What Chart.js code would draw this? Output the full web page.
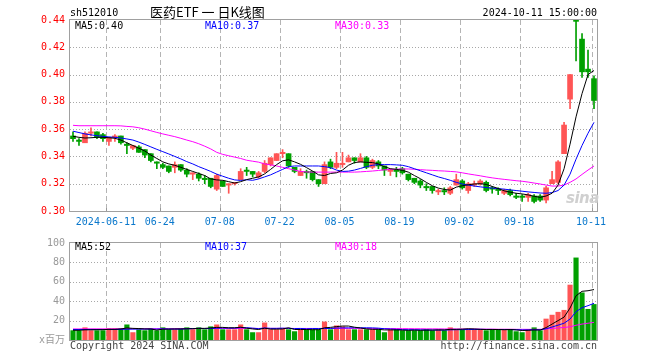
<!DOCTYPE html>
<html lang="zh-CN">
<head>
<meta charset="UTF-8">
<title>医药ETF 日K线图</title>
<script src="https://cdn.jsdelivr.net/npm/chart.js@4/dist/chart.umd.min.js"></script>
<style>
  body { margin: 0; background: #fff; }
  #wrap { position: relative; width: 660px; height: 360px; overflow: hidden;
          font-family: "DejaVu Sans Mono", monospace; font-size: 10px; }
  #kline { position: absolute; left: 0; top: 0; }
  #volume { position: absolute; left: 0; top: 232px; }
  .txt { position: absolute; white-space: nowrap; line-height: 12px; }
</style>
</head>
<body>
<div id="wrap">
  <canvas id="kline" width="660" height="232"></canvas>
  <canvas id="volume" width="660" height="128"></canvas>

  <div class="txt" style="left:70px;top:7px;color:#000">sh512010</div>
  <div class="txt" style="left:150px;top:4px;font-family:'Noto Sans CJK SC','DejaVu Sans Mono';font-size:13px;line-height:16px;color:#000">医药ETF 一 日K线图</div>
  <div class="txt" style="right:63px;top:7px;color:#000">2024-10-11 15:00:00</div>

  <div class="txt" style="left:75px;top:20px;color:#000">MA5:0.40</div>
  <div class="txt" style="left:205px;top:20px;color:#0000ff">MA10:0.37</div>
  <div class="txt" style="left:335px;top:20px;color:#ff00ff">MA30:0.33</div>

  <div class="txt" style="left:75px;top:241px;color:#000">MA5:52</div>
  <div class="txt" style="left:205px;top:241px;color:#0000ff">MA10:37</div>
  <div class="txt" style="left:335px;top:241px;color:#ff00ff">MA30:18</div>

  <div class="txt" style="left:566px;top:190px;font-family:'DejaVu Sans';font-weight:bold;font-style:italic;font-size:15px;line-height:16px;letter-spacing:-0.5px;color:#d0d0d0">sina</div>

  <div class="txt" style="left:70px;top:340px;color:#444">Copyright 2024 SINA.COM</div>
  <div class="txt" style="right:63px;top:340px;color:#444">http://finance.sina.com.cn</div>
</div>

<script>
// trading days shown on the chart
var dates = [
  '2024-05-31',
  '2024-06-03','2024-06-04','2024-06-05','2024-06-06','2024-06-07','2024-06-11','2024-06-12','2024-06-13','2024-06-14',
  '2024-06-17','2024-06-18','2024-06-19','2024-06-20','2024-06-21','2024-06-24','2024-06-25','2024-06-26','2024-06-27','2024-06-28',
  '2024-07-01','2024-07-02','2024-07-03','2024-07-04','2024-07-05','2024-07-08','2024-07-09','2024-07-10','2024-07-11','2024-07-12',
  '2024-07-15','2024-07-16','2024-07-17','2024-07-18','2024-07-19','2024-07-22','2024-07-23','2024-07-24','2024-07-25','2024-07-26',
  '2024-07-29','2024-07-30','2024-07-31','2024-08-01','2024-08-02','2024-08-05','2024-08-06','2024-08-07','2024-08-08','2024-08-09',
  '2024-08-12','2024-08-13','2024-08-14','2024-08-15','2024-08-16','2024-08-19','2024-08-20','2024-08-21','2024-08-22','2024-08-23',
  '2024-08-26','2024-08-27','2024-08-28','2024-08-29','2024-08-30','2024-09-02','2024-09-03','2024-09-04','2024-09-05','2024-09-06',
  '2024-09-09','2024-09-10','2024-09-11','2024-09-12','2024-09-13','2024-09-18','2024-09-19','2024-09-20','2024-09-23','2024-09-24',
  '2024-09-25','2024-09-26','2024-09-27','2024-09-30','2024-10-08','2024-10-09','2024-10-10','2024-10-11'
];
var tickDates = ['2024-06-11','2024-06-24','2024-07-08','2024-07-22','2024-08-05','2024-08-19','2024-09-02','2024-09-18','2024-10-11'];

var opens = [
  .355,.352,.350,.357,.358,.356,.351,.354,.355,.349,
  .346,.347,.345,.342,.336,.334,.333,.332,.334,.330,
  .327,.327,.324,.324,.316,.322,.319,.320,.323,.330,
  .329,.325,.329,.334,.337,.342,.342,.332,.326,.329,
  .329,.323,.320,.336,.332,.334,.336,.339,.336,.339,
  .332,.336,.333,.329,.330,.331,.327,.324,.322,.318,
  .318,.314,.315,.313,.319,.322,.315,.319,.320,.321,
  .317,.316,.313,.315,.311,.311,.310,.311,.311,.308,
  .320,.321,.342,.382,.440,.426,.404,.397
];
var highs = [
  .358,.353,.358,.361,.358,.357,.354,.356,.355,.350,
  .348,.348,.345,.342,.336,.335,.333,.336,.334,.331,
  .328,.328,.326,.324,.327,.322,.320,.321,.331,.332,
  .329,.329,.337,.339,.342,.345,.342,.332,.331,.330,
  .329,.323,.336,.338,.343,.343,.341,.339,.342,.340,
  .338,.337,.333,.331,.332,.332,.327,.324,.323,.320,
  .318,.316,.317,.318,.327,.323,.321,.322,.323,.322,
  .318,.317,.316,.316,.313,.312,.313,.312,.312,.318,
  .329,.337,.365,.400,.440,.430,.418,.399
];
var lows = [
  .351,.348,.350,.355,.353,.351,.348,.351,.349,.342,
  .345,.343,.339,.336,.331,.331,.328,.328,.329,.325,
  .323,.322,.320,.317,.315,.318,.313,.319,.323,.326,
  .325,.324,.328,.333,.337,.339,.332,.328,.326,.324,
  .322,.318,.320,.331,.331,.332,.336,.335,.336,.331,
  .331,.331,.326,.326,.325,.327,.322,.320,.317,.315,
  .313,.312,.312,.312,.319,.316,.313,.318,.319,.314,
  .313,.312,.312,.311,.309,.307,.307,.306,.307,.306,
  .320,.320,.342,.375,.410,.398,.398,.375
];
var closes = [
  .353,.351,.357,.358,.354,.353,.354,.355,.350,.348,
  .348,.343,.341,.337,.335,.332,.329,.334,.330,.327,
  .328,.324,.323,.318,.326,.318,.320,.321,.329,.329,
  .327,.328,.335,.339,.342,.343,.333,.329,.329,.328,
  .323,.320,.334,.332,.335,.335,.339,.337,.339,.332,
  .337,.333,.330,.330,.329,.328,.323,.321,.319,.317,
  .315,.315,.314,.317,.323,.317,.320,.320,.322,.315,
  .316,.315,.315,.312,.310,.310,.312,.307,.308,.317,
  .323,.336,.363,.400,.439,.402,.402,.381
];

var priceMa5 = [
  .3548,.3540,.3535,.3537,.3540,.3540,.3537,.3533,.3520,.3500,
  .3480,.3460,.3440,.3410,.3385,.3360,.3345,.3335,.3320,.3305,
  .3290,.3275,.3260,.3235,.3228,.3225,.3215,.3205,.3215,.3230,
  .3240,.3250,.3272,.3305,.3340,.3368,.3375,.3360,.3342,.3318,
  .3293,.3265,.3260,.3275,.3280,.3300,.3335,.3355,.3360,.3357,
  .3355,.3345,.3325,.3310,.3305,.3298,.3285,.3260,.3237,.3210,
  .3185,.3168,.3158,.3153,.3175,.3185,.3192,.3198,.3200,.3195,
  .3180,.3165,.3148,.3138,.3130,.3125,.3118,.3108,.3100,.3110,
  .3130,.3190,.3310,.3490,.3690,.3860,.4000,.4030
];
var priceMa10 = [
  .3585,.3575,.3565,.3558,.3552,.3547,.3543,.3540,.3535,.3528,
  .3520,.3505,.3488,.3470,.3452,.3435,.3418,.3400,.3382,.3362,
  .3345,.3325,.3308,.3290,.3270,.3255,.3240,.3228,.3224,.3229,
  .3225,.3235,.3250,.3265,.3285,.3305,.3325,.3330,.3330,.3330,
  .3330,.3330,.3325,.3318,.3300,.3290,.3292,.3300,.3312,.3325,
  .3335,.3340,.3340,.3340,.3338,.3335,.3325,.3310,.3295,.3280,
  .3265,.3250,.3238,.3225,.3210,.3198,.3190,.3183,.3177,.3172,
  .3168,.3164,.3160,.3155,.3150,.3145,.3140,.3136,.3132,.3130,
  .3135,.3150,.3190,.3270,.3380,.3480,.3570,.3650
];
var priceMa30 = [
  .3628,.3625,.3625,.3625,.3625,.3625,.3625,.3625,.3624,.3620,
  .3617,.3610,.3600,.3588,.3576,.3565,.3555,.3545,.3533,.3520,
  .3508,.3493,.3475,.3455,.3430,.3415,.3405,.3395,.3385,.3372,
  .3365,.3358,.3345,.3338,.3330,.3320,.3310,.3300,.3290,.3286,
  .3285,.3285,.3285,.3285,.3285,.3285,.3285,.3285,.3287,.3290,
  .3293,.3297,.3302,.3305,.3307,.3308,.3308,.3306,.3303,.3300,
  .3298,.3295,.3293,.3290,.3287,.3280,.3272,.3265,.3258,.3250,
  .3243,.3237,.3232,.3227,.3222,.3218,.3212,.3205,.3198,.3190,
  .3183,.3183,.3190,.3210,.3235,.3268,.3300,.3330
];

// volume, millions of shares
var volumes = [
  10,10,13,10,10,10,12,12,12,16,
  8,11,10,12,10,13,11,11,12,13,
  11,13,11,14,16,11,11,11,16,11,
  8,8,18,11,11,12,11,9,11,11,
  11,11,19,11,15,14,11,11,11,11,
  11,11,8,11,11,10,10,10,10,11,
  10,11,10,13,11,11,11,11,11,10,
  11,11,11,11,9,8,11,13,10,22,
  26,29,31,57,85,49,32,37
];
var volMa5 = [
  10,10,10.5,10.5,10.6,10.6,11,11,11.4,12.4,
  12,11.8,11.4,11.4,10.2,11.2,11.2,11.4,11.4,11.6,
  11.6,12,12,12.4,13,13,12.6,12.6,13.2,12.2,
  11.4,10.8,12.2,11.2,11.2,11.4,12.6,10.8,10.8,10.8,
  10.6,10.6,12.6,13,13.8,14.4,14.4,13.2,12.4,11.4,
  11,11,10.4,10.4,10.4,10.2,10,10.2,10,10.2,
  10.2,10.4,10.4,11,11,11.2,11.6,11.4,11,10.8,
  10.8,10.8,10.6,10.8,10.4,9.8,10,10.4,10.2,12.8,
  16.4,20,23.6,33,45.6,50.2,50.8,52
];
var volMa10 = [
  10.8,10.8,10.8,10.8,10.8,10.8,10.8,10.8,11,11.2,
  11.2,11.3,11.2,11.2,11.2,11.5,11.3,11.2,11.2,11.6,
  11.8,12,11.8,11.8,12.2,12.4,12.3,12.3,12.8,12.7,
  12.2,11.7,12.4,12,12,12.2,12,11.8,11.9,11.5,
  11.8,11.8,11.9,11.9,12.3,12.5,12.5,12.6,12.6,12.6,
  12.5,12.2,11.6,11.3,11,10.7,10.6,10.6,10.5,10.4,
  10.3,10.3,10.2,10.5,10.6,10.7,10.8,10.9,11,10.9,
  10.9,10.8,10.8,10.8,10.6,10.4,10.4,10.6,10.5,11.6,
  13.4,15.3,17.3,21.6,29.2,33.3,35.4,37.8
];
var volMa30 = [
  11.4,11.4,11.5,11.5,11.5,11.5,11.5,11.5,11.5,11.6,
  11.6,11.6,11.6,11.6,11.6,11.6,11.6,11.7,11.7,11.7,
  11.7,11.8,11.8,11.8,11.9,11.9,11.9,11.9,12,12,
  12,11.9,12,12,12,12,12,11.9,11.9,11.9,
  11.9,11.9,12,12,12,12,12,12,12,11.9,
  11.9,11.9,11.8,11.8,11.8,11.7,11.7,11.6,11.6,11.5,
  11.5,11.5,11.4,11.4,11.4,11.3,11.3,11.3,11.2,11.2,
  11.2,11.1,11.1,11.1,11,11,11,11,11,11.4,
  11.9,12.4,12.9,13.6,15.2,16.4,17.3,18.2
];

var UP = '#ff5555';
var DOWN = '#00a000';
var MONO = '"DejaVu Sans Mono", monospace';

Chart.defaults.font.family = MONO;
Chart.defaults.font.size = 10;
Chart.defaults.animation = false;

var candleColors = closes.map(function (c, i) { return c >= opens[i] ? UP : DOWN; });

// sina style grid: dotted horizontals, dashed verticals at the date ticks
function sinaGrid(hLines, tickMarks) {
  return {
    id: 'sinaGrid',
    beforeDatasetsDraw: function (chart) {
      var ctx = chart.ctx, a = chart.chartArea;
      var xs = chart.scales.x, ys = chart.scales.y;
      ctx.save();
      ctx.lineWidth = 1;
      ctx.strokeStyle = '#a8a8a8';
      ctx.setLineDash([1, 2]);
      hLines.forEach(function (v) {
        var py = Math.round(ys.getPixelForValue(v)) + 0.5;
        ctx.beginPath(); ctx.moveTo(a.left, py); ctx.lineTo(a.right, py); ctx.stroke();
      });
      ctx.setLineDash([5, 3]);
      ctx.strokeStyle = '#b4b4b4';
      tickDates.forEach(function (d) {
        var px = Math.round(xs.getPixelForValue(dates.indexOf(d)) - 2.5) + 0.5;
        ctx.beginPath(); ctx.moveTo(px, a.top); ctx.lineTo(px, a.bottom); ctx.stroke();
        if (tickMarks) {
          ctx.save();
          ctx.setLineDash([]);
          ctx.strokeStyle = '#999';
          ctx.beginPath(); ctx.moveTo(px, a.bottom - 3); ctx.lineTo(px, a.bottom); ctx.stroke();
          ctx.restore();
        }
      });
      ctx.restore();
    },
    afterDatasetsDraw: function (chart) {
      var ctx = chart.ctx, a = chart.chartArea;
      ctx.save();
      ctx.strokeStyle = '#a0a0a0';
      ctx.lineWidth = 1;
      ctx.strokeRect(Math.round(a.left) - 0.5, Math.round(a.top) - 0.5,
        Math.round(a.right - a.left) + 1, Math.round(a.bottom - a.top) + 1);
      ctx.restore();
    }
  };
}

function maLine(label, data, color) {
  return {
    type: 'line', label: label, data: data, borderColor: color, borderWidth: 1,
    pointRadius: 0, tension: 0, order: 0
  };
}

var klineChart = new Chart(document.getElementById('kline'), {
  type: 'bar',
  data: {
    labels: dates,
    datasets: [
      maLine('MA5', priceMa5, '#000000'),
      maLine('MA10', priceMa10, '#0000ff'),
      maLine('MA30', priceMa30, '#ff00ff'),
      {
        label: 'body', data: opens.map(function (o, i) { return [o, closes[i]]; }),
        backgroundColor: candleColors, barThickness: 5, minBarLength: 1, grouped: false, order: 1
      },
      {
        label: 'wick', data: lows.map(function (l, i) { return [l, highs[i]]; }),
        backgroundColor: candleColors, barThickness: 1, grouped: false, order: 2
      }
    ]
  },
  options: {
    responsive: false,
    layout: { padding: { left: 0, right: 63, top: 20, bottom: 0 } },
    plugins: { legend: { display: false }, tooltip: { enabled: false } },
    scales: {
      x: {
        offset: true,
        grid: { display: false, drawTicks: false },
        border: { display: false },
        ticks: {
          autoSkip: false, maxRotation: 0, minRotation: 0, padding: 5, labelOffset: -3,
          color: '#0a78cc',
          callback: function (value, index) {
            var d = dates[index];
            if (tickDates.indexOf(d) < 0) return '';
            return d === tickDates[0] ? d : d.slice(5);
          }
        },
        afterFit: function (s) { s.height = 21; }
      },
      y: {
        min: 0.30, max: 0.44,
        grid: { display: false, drawTicks: false },
        border: { display: false },
        ticks: {
          stepSize: 0.02, padding: 5, color: '#ff0000',
          callback: function (v) { return v.toFixed(2); }
        },
        afterFit: function (s) { s.width = 70; }
      }
    }
  },
  plugins: [sinaGrid([0.32, 0.34, 0.36, 0.38, 0.40, 0.42], true)]
});

var volumeChart = new Chart(document.getElementById('volume'), {
  type: 'bar',
  data: {
    labels: dates,
    datasets: [
      maLine('MA5', volMa5, '#000000'),
      maLine('MA10', volMa10, '#0000ff'),
      maLine('MA30', volMa30, '#ff00ff'),
      {
        label: 'volume', data: volumes, backgroundColor: candleColors,
        barPercentage: 1, categoryPercentage: 0.86, order: 1
      }
    ]
  },
  options: {
    responsive: false,
    layout: { padding: { left: 0, right: 63, top: 8, bottom: 20 } },
    plugins: { legend: { display: false }, tooltip: { enabled: false } },
    scales: {
      x: { display: false, offset: true },
      y: {
        min: 0, max: 100,
        grid: { display: false, drawTicks: false },
        border: { display: false },
        ticks: {
          stepSize: 20, padding: 5, color: '#999999',
          callback: function (v) { return v === 0 ? 'x百万' : v; }
        },
        afterFit: function (s) { s.width = 70; }
      }
    }
  },
  plugins: [sinaGrid([20, 40, 60, 80], false)]
});
</script>
</body>
</html>
